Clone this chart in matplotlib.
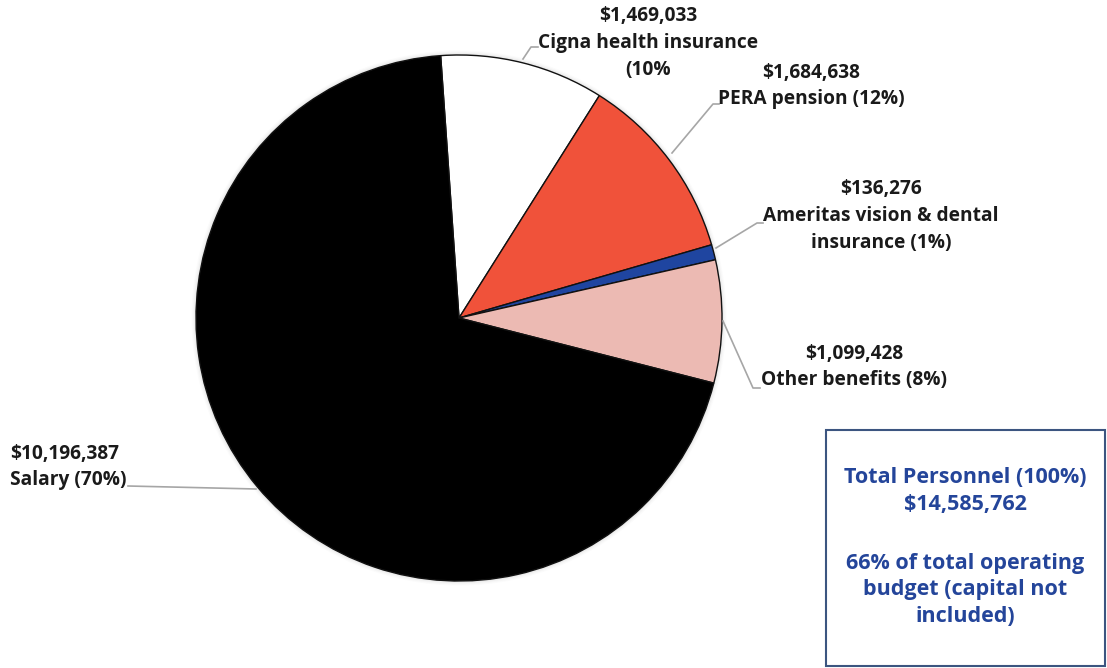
import matplotlib.pyplot as plt
from matplotlib.patches import Rectangle, Circle

plt.rcParams['font.family'] = ['Open Sans', 'DejaVu Sans']

# personnel cost breakdown, in pie order (clockwise from the top)
categories = ["Cigna health insurance\n(10%", "PERA pension (12%)",
              "Ameritas vision & dental\ninsurance (1%)", "Other benefits (8%)",
              "Salary (70%)"]
amounts = [1469033, 1684638, 136276, 1099428, 10196387]
colors = ["#ffffff", "#f0523a", "#1f45a0", "#ecbab3", "#000000"]

total_label = "Total Personnel (100%)"
total_amount = sum(amounts)
note = "66% of total operating\nbudget (capital not\nincluded)"

W, H = 1107, 668
fig = plt.figure(figsize=(W / 100, H / 100), dpi=100)
ax = fig.add_axes([0, 0, 1, 1])

cx, cy, r = 459, H - 318, 263

# soft shadow around the pie
for i, a in enumerate([0.04, 0.03, 0.02, 0.015]):
    ax.add_patch(Circle((cx, cy), r + 1 + i * 1.2, color="#000000", alpha=a, lw=0, zorder=0))

ax.pie(amounts, colors=colors, startangle=94, counterclock=False,
       center=(cx, cy), radius=r, frame=True,
       wedgeprops=dict(edgecolor="#111111", linewidth=1.0))
ax.set_xlim(0, W)
ax.set_ylim(0, H)
ax.set_aspect("equal")
ax.axis("off")

fs = 13.8
txt = dict(fontsize=fs, fontweight="bold", color="#1a1a1a", linespacing=1.45)
lead = dict(color="#a6a6a6", lw=1.2, zorder=1)

# label positions (x, y from top) and leader lines
label_pos = [(648, 43, "center"), (811, 86, "center"), (881, 216, "center"),
             (854, 367, "center"), (10, 467, "left")]
leaders = [[(523, 59), (531, 47), (538, 47)],
           [(672, 153), (713, 104), (719, 104)],
           [(716, 248), (757, 223), (763, 223)],
           [(723, 321), (753, 388), (760, 388)],
           [(256, 489), (128, 486)]]

for name, amt, (x, y, ha), pts in zip(categories, amounts, label_pos, leaders):
    s = f"${amt:,}\n{name}"
    ax.text(x, H - y, s, ha=ha, va="center", multialignment="center" if ha == "center" else "left", **txt)
    ax.plot([p[0] for p in pts], [H - p[1] for p in pts], **lead)

# summary box
ax.add_patch(Rectangle((826, H - 666), 279, 236, fill=False, edgecolor="#3c5580", lw=1.5))
blue = "#24459a"
box_txt = dict(ha="center", va="center", fontsize=15.5, fontweight="bold", color=blue, linespacing=1.36)
ax.text(965, H - 491, f"{total_label}\n${total_amount:,}", **box_txt)
ax.text(965, H - 590, note, **box_txt)

fig.savefig("out.png", dpi=100)
